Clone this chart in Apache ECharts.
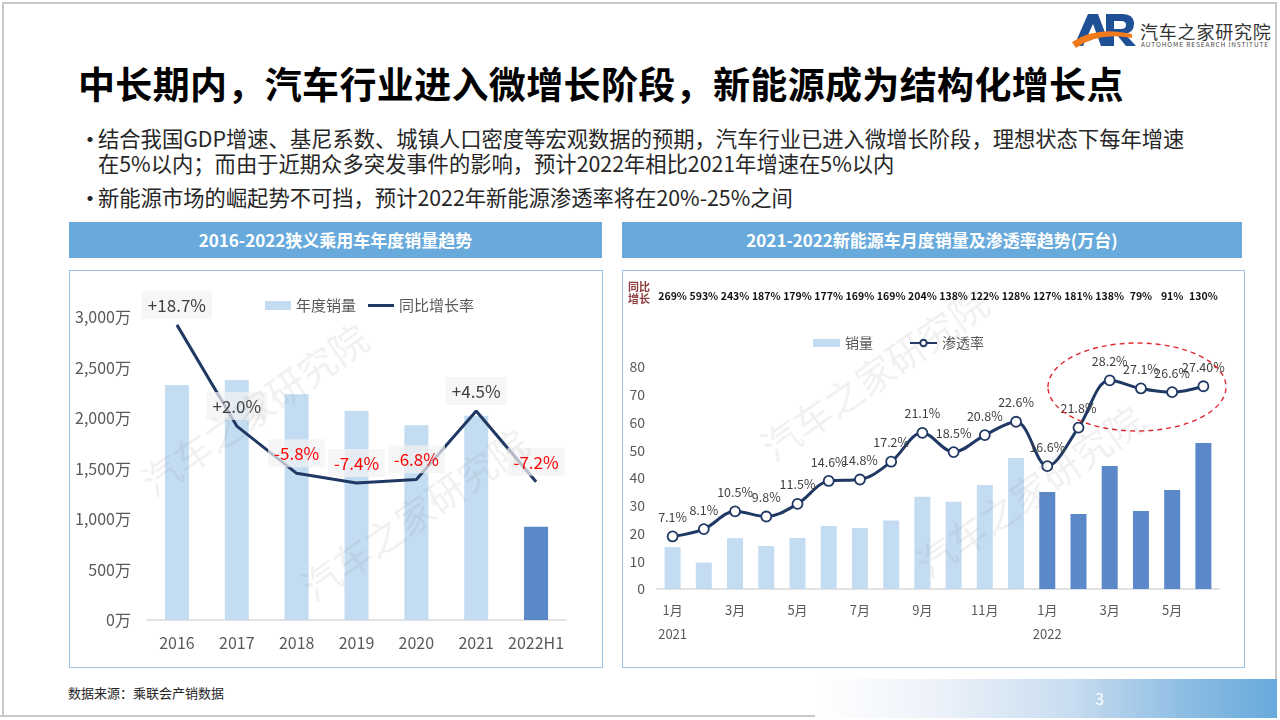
<!DOCTYPE html>
<html>
<head>
<meta charset="utf-8">
<script src="https://cdn.jsdelivr.net/npm/echarts@6/dist/echarts.min.js"></script>
<style>
  html, body { margin:0; padding:0; width:1280px; height:720px; overflow:hidden; background:#fff;
    font-family:"Noto Sans CJK SC","Noto Sans",sans-serif; }
  .abs { position:absolute; }
  .slide { position:absolute; left:2px; top:2px; width:1275px; height:714px; border-left:2px solid #c8c8c8; border-top:2px solid #c8c8c8; border-right:2px solid #c8c8c8; box-sizing:border-box; }
  .title { left:78px; top:56px; font-size:37px; font-weight:bold; color:#000; white-space:nowrap; letter-spacing:0.35px; }
  .bullet { left:80px; font-size:21.3px; color:#262626; line-height:25px; white-space:nowrap; }
  .bullet .dot { position:absolute; left:-2px; top:0; font-size:24px; }
  .bullet .txt { position:absolute; left:18px; top:0; }
  .hdr { height:36px; top:222px; background:#68aadc; color:#fff; font-weight:bold; font-size:17px; text-align:center; line-height:36px; }
  .box { top:270px; height:398px; border:1.5px solid #9dc3e6; box-sizing:border-box; }
  .footer { left:815px; top:679px; width:462px; height:39px; background:linear-gradient(to right,#ffffff 0%,#eef3fa 25%,#c9ddf0 55%,#8dbde3 80%,#68aadc 100%); }
</style>
</head>
<body>
<div class="slide"></div>
<div class="abs" style="left:0;top:715px;width:815px;height:2px;background:#c8c8c8"></div>

<!-- logo -->
<div class="abs" style="left:1072px;top:8px;width:70px;height:42px;">
  <svg width="70" height="42" viewBox="0 0 70 42">
    <path d="M2 38 L16 6 L26 6 L38 38 L29 38 L21 16 L11 38 Z" fill="#1f4f95"/>
    <path d="M34 38 L34 6 L50 6 Q62 6 62 16 Q62 24 53 26 L64 38 L54 38 L45 27 L42 27 L42 38 Z M42 13 L42 21 L49 21 Q54 21 54 17 Q54 13 49 13 Z" fill="#1f4f95"/>
    <path d="M0 34 Q24 18 60 26 L60 30 Q26 24 4 40 Z" fill="#f07a1c"/>
  </svg>
</div>
<div class="abs" style="left:1140px;top:18px;font-size:18px;color:#333;white-space:nowrap;letter-spacing:0.8px;">汽车之家研究院</div>
<div class="abs" style="left:1141px;top:39px;font-size:6.5px;color:#444;white-space:nowrap;letter-spacing:0.9px;">AUTOHOME RESEARCH INSTITUTE</div>

<div class="abs title">中长期内，汽车行业进入微增长阶段，新能源成为结构化增长点</div>
<div class="abs bullet" style="top:125px;"><span class="dot">•</span><span class="txt">结合我国GDP增速、基尼系数、城镇人口密度等宏观数据的预期，汽车行业已进入微增长阶段，理想状态下每年增速<br>在5%以内；而由于近期众多突发事件的影响，预计2022年相比2021年增速在5%以内</span></div>
<div class="abs bullet" style="top:184px;"><span class="dot">•</span><span class="txt">新能源市场的崛起势不可挡，预计2022年新能源渗透率将在20%-25%之间</span></div>

<div class="abs hdr" style="left:69px;width:533px;">2016-2022狭义乘用车年度销量趋势</div>
<div class="abs hdr" style="left:622px;width:620px;">2021-2022新能源车月度销量及渗透率趋势(万台)</div>

<div id="c1" class="abs" style="left:69px;top:270px;width:534px;height:398px;"></div>
<div id="c2" class="abs" style="left:622px;top:270px;width:623px;height:398px;"></div>
<div class="abs box" style="left:69px;width:534px;"></div>
<div class="abs box" style="left:622px;width:623px;"></div>

<div class="abs" style="left:68px;top:683px;font-size:13px;color:#262626;">数据来源：乘联会产销数据</div>
<div class="abs footer"></div>
<div class="abs" style="left:1095px;top:686px;font-size:16px;color:#fff;">3</div>

<script>
// ---------- data: left chart ----------
const years = ['2016', '2017', '2018', '2019', '2020', '2021', '2022H1'];
const annualSales = [2327, 2376, 2235, 2069, 1928, 2023, 924];   // 万
const yoyGrowth = [18.7, 2.0, -5.8, -7.4, -6.8, 4.5, -7.2];      // %
const leftYTicks = [0, 500, 1000, 1500, 2000, 2500, 3000];

// ---------- data: right chart ----------
const months = ['1月','2月','3月','4月','5月','6月','7月','8月','9月','10月','11月','12月',
                '1月','2月','3月','4月','5月','6月'];
const monthYears = ['2021','','','','','','','','','','','','2022','','','','',''];
const nevSales = [15.1, 9.5, 18.3, 15.5, 18.4, 22.7, 22.0, 24.7, 33.2, 31.4, 37.5, 47.2,
                  35.0, 27.0, 44.3, 28.1, 35.7, 52.6];                   // 万台
const penetration = [7.1, 8.1, 10.5, 9.8, 11.5, 14.6, 14.8, 17.2, 21.1, 18.5, 20.8, 22.6,
                     16.6, 21.8, 28.2, 27.1, 26.6, 27.4];                // %
const penetrationLabels = ['7.1%','8.1%','10.5%','9.8%','11.5%','14.6%','14.8%','17.2%','21.1%',
                           '18.5%','20.8%','22.6%','16.6%','21.8%','28.2%','27.1%','26.6%','27.40%'];
const nevYoY = ['269%','593%','243%','187%','179%','177%','169%','169%','204%','138%','122%','128%',
                '127%','181%','138%','79%','91%','130%'];

const FONT = '"Noto Sans CJK SC","Noto Sans",sans-serif';
const LIGHT = '#c3dcf1', DARK = '#5a88c8', NAVY = '#1f3864';
const wmStyle = (txt) => ({ text: txt, font: 'normal 38px ' + FONT, fill: 'rgba(120,120,120,0.10)', textAlign: 'center', textVerticalAlign: 'middle' });
const rot = 35 * Math.PI / 180;
const lineIcon = 'path://M0,0 L26,0 L26,3 L0,3 Z';

// ---------- left chart ----------
const c1 = echarts.init(document.getElementById('c1'));
c1.setOption({
  animation: false,
  textStyle: { fontFamily: FONT },
  grid: { left: 78, right: 37, top: 47, bottom: 48 },
  legend: {
    left: 191, top: 23, itemWidth: 26, itemHeight: 9, itemGap: 12,
    textStyle: { fontSize: 15, color: '#595959' },
    data: [
      { name: '年度销量', icon: 'rect', itemStyle: { color: LIGHT } },
      { name: '同比增长率', icon: lineIcon, itemStyle: { color: NAVY, opacity: 1, borderWidth: 0 } }
    ]
  },
  xAxis: {
    type: 'category', data: years,
    axisLine: { lineStyle: { color: '#d9d9d9', width: 1.5 } },
    axisTick: { show: false },
    axisLabel: { fontSize: 16, color: '#595959', margin: 15, interval: 0 }
  },
  yAxis: [{
    type: 'value', min: leftYTicks[0], max: leftYTicks[leftYTicks.length - 1], interval: 500,
    axisLine: { show: false }, axisTick: { show: false }, splitLine: { show: false },
    axisLabel: { fontSize: 16, color: '#595959', margin: 16,
      formatter: v => v.toLocaleString('en-US') + '万' }
  }, {
    type: 'value', min: -30, max: 20, show: false
  }],
  series: [{
    name: '年度销量', type: 'bar', barWidth: 24,
    data: annualSales,
    itemStyle: { color: p => (p.dataIndex === years.length - 1 ? DARK : LIGHT) }
  }, {
    name: '同比增长率', type: 'line', yAxisIndex: 1, symbol: 'circle', symbolSize: 0.1,
    showSymbol: true,
    data: yoyGrowth,
    lineStyle: { color: NAVY, width: 3 },
    itemStyle: { color: NAVY, opacity: 0 },
    z: 5,
    label: {
      show: true, position: 'top', distance: 6, opacity: 1,
      backgroundColor: 'rgba(242,242,242,0.72)', padding: [6, 6, 5, 6],
      formatter: p => p.value >= 0 ? '{p|+' + p.value.toFixed(1) + '%}' : '{n|' + p.value.toFixed(1) + '%}',
      rich: { p: { fontSize: 17, color: '#404040' }, n: { fontSize: 17, color: '#ff0000' } }
    }
  }],
  graphic: [
    { type: 'text', x: 186, y: 140, rotation: rot, style: wmStyle('汽车之家研究院'), silent: true, z: 100 },
    { type: 'text', x: 346, y: 245, rotation: rot, style: wmStyle('汽车之家研究院'), silent: true, z: 100 }
  ]
});

// ---------- right chart ----------
const c2 = echarts.init(document.getElementById('c2'));
c2.setOption({
  animation: false,
  textStyle: { fontFamily: FONT },
  grid: { left: 35, right: 26, top: 97, bottom: 79 },
  legend: {
    left: 186, top: 61, itemWidth: 27, itemHeight: 8, itemGap: 36,
    textStyle: { fontSize: 14, color: '#595959' },
    data: [{ name: '销量', icon: 'rect', itemStyle: { color: LIGHT } }, { name: '渗透率' }]
  },
  xAxis: [{
    type: 'category', data: months.map((m, i) => monthYears[i] ? m + '\n' + monthYears[i] : m),
    axisLine: { lineStyle: { color: '#d9d9d9', width: 1.5 } },
    axisTick: { show: false },
    axisLabel: { fontSize: 13, color: '#595959', margin: 9, lineHeight: 24, interval: 1,
      verticalAlign: 'top' }
  }, {
    type: 'category', data: nevYoY, position: 'top', offset: 58,
    axisLine: { show: false }, axisTick: { show: false },
    axisLabel: { fontSize: 10.5, fontWeight: 'bold', color: '#111', margin: 8, interval: 0 }
  }],
  yAxis: [{
    type: 'value', min: 0, max: 80, interval: 10,
    axisLine: { show: false }, axisTick: { show: false }, splitLine: { show: false },
    axisLabel: { fontSize: 14, color: '#595959', margin: 12 }
  }, {
    type: 'value', min: 0, max: 30, show: false
  }],
  series: [{
    name: '销量', type: 'bar', barWidth: 16, data: nevSales,
    itemStyle: { color: p => (p.dataIndex >= 12 ? DARK : LIGHT) }
  }, {
    name: '渗透率', type: 'line', yAxisIndex: 1, smooth: 0.35,
    data: penetration,
    symbol: 'circle', symbolSize: 10,
    lineStyle: { color: NAVY, width: 3 },
    itemStyle: { color: '#fff', borderColor: NAVY, borderWidth: 1.8 },
    z: 5,
    label: { show: true, position: 'top', distance: 7, fontSize: 12.5, color: '#404040',
      formatter: p => penetrationLabels[p.dataIndex] }
  }],
  graphic: [
    { type: 'text', x: 253, y: 105, rotation: rot, style: wmStyle('汽车之家研究院'), silent: true, z: 100 },
    { type: 'text', x: 408, y: 222, rotation: rot, style: wmStyle('汽车之家研究院'), silent: true, z: 100 },
    { type: 'ellipse', shape: { cx: 515, cy: 117, rx: 89, ry: 44 },
      style: { fill: 'none', stroke: '#e0282e', lineWidth: 1.4, lineDash: [5, 4] }, silent: true, z: 50 },
    { type: 'text', x: 6, y: 11, style: { text: '同比\n增长', font: 'bold 11px ' + FONT, fill: '#8e3b3b', lineHeight: 12 }, silent: true }
  ]
});
</script>
</body>
</html>
